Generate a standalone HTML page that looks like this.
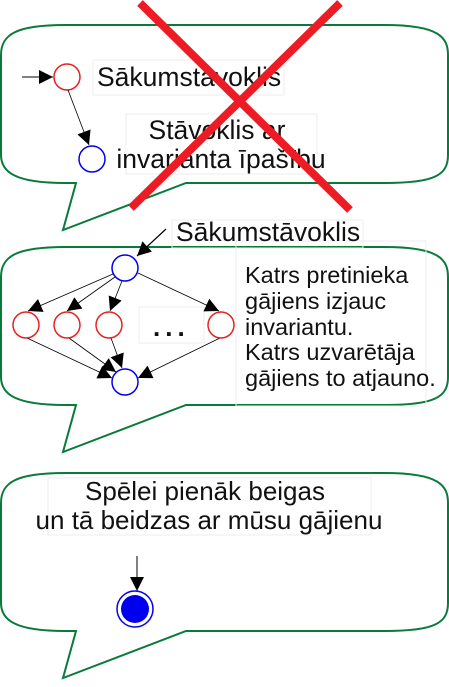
<!DOCTYPE html>
<html><head><meta charset="utf-8"><style>
html,body{margin:0;padding:0;background:#fff;}
svg{display:block;}
text{font-family:"Liberation Sans",sans-serif;fill:#111;}
</style></head><body>
<svg width="449" height="687" viewBox="0 0 449 687" xmlns="http://www.w3.org/2000/svg">
<defs>
<marker id="ahb" viewBox="0 0 10 10" refX="10" refY="5" markerWidth="14" markerHeight="14" markerUnits="userSpaceOnUse" orient="auto">
<path d="M0,0 L10,5 L0,10 z" fill="#000"/></marker>
<path id="bub" d="M65,25 L385,25 C440,25 448,38 448,55 L448,155 C448,175 435,183 385,183 L186,183 L63,230 L76,183 L65,183 C15,183 1,172 1,155 L1,55 C1,35 15,25 65,25 Z" fill="#fff" stroke="#0a7a3a" stroke-width="2"/>
</defs>
<use href="#bub"/>
<use href="#bub" transform="translate(0,222)"/>
<use href="#bub" transform="translate(0,448)"/>

<!-- bubble 1 -->
<rect x="93" y="60" width="191" height="35" fill="none" stroke="#eee"/>
<rect x="126" y="114" width="191" height="60" fill="none" stroke="#eee"/>
<line x1="22" y1="77" x2="53" y2="77" stroke="#000" stroke-width="1" marker-end="url(#ahb)"/>
<circle cx="67" cy="77" r="13" fill="none" stroke="#e82020" stroke-width="1.5"/>
<line x1="68" y1="90" x2="89" y2="145" stroke="#000" stroke-width="0.8" marker-end="url(#ahb)"/>
<circle cx="92" cy="159" r="13" fill="none" stroke="#0000ee" stroke-width="1.5"/>
<text x="97" y="86" font-size="26.5">Sākumstāvoklis</text>
<text x="217" y="139" font-size="26.5" text-anchor="middle">Stāvoklis ar</text>
<text x="221" y="168" font-size="26.5" text-anchor="middle">invarianta īpašību</text>
<line x1="140" y1="3" x2="350" y2="210" stroke="#ed1c24" stroke-width="8"/>
<line x1="340" y1="3" x2="131" y2="208" stroke="#ed1c24" stroke-width="8"/>

<!-- bubble 2 -->
<rect x="172" y="220" width="191" height="28" fill="none" stroke="#eee"/>
<rect x="236" y="241" width="190" height="165" fill="none" stroke="#eee"/>
<rect x="139" y="307" width="65" height="36" fill="none" stroke="#eee"/>
<text x="176" y="241" font-size="26.5">Sākumstāvoklis</text>
<line x1="166" y1="229" x2="137" y2="256" stroke="#000" stroke-width="1.2" marker-end="url(#ahb)"/>
<circle cx="125" cy="268" r="13" fill="none" stroke="#0000ee" stroke-width="1.5"/>
<g stroke="#000" stroke-width="0.8">
<line x1="113" y1="274" x2="28" y2="311" marker-end="url(#ahb)"/>
<line x1="115" y1="277" x2="67" y2="311" marker-end="url(#ahb)"/>
<line x1="122" y1="281" x2="110" y2="311" marker-end="url(#ahb)"/>
<line x1="138" y1="273" x2="219" y2="311" marker-end="url(#ahb)"/>
<line x1="27" y1="338" x2="112" y2="378" marker-end="url(#ahb)"/>
<line x1="69" y1="338" x2="116" y2="372" marker-end="url(#ahb)"/>
<line x1="111" y1="338" x2="122" y2="368" marker-end="url(#ahb)"/>
<line x1="220" y1="338" x2="138" y2="378" marker-end="url(#ahb)"/>
</g>
<g fill="none" stroke="#e82020" stroke-width="1.5">
<circle cx="26" cy="325" r="13"/><circle cx="67" cy="325" r="13"/><circle cx="109" cy="325" r="13"/><circle cx="221" cy="325" r="13"/>
</g>
<circle cx="125" cy="382" r="13" fill="none" stroke="#0000ee" stroke-width="1.5"/>
<text x="153" y="336" font-size="26" font-weight="bold" letter-spacing="5">...</text>
<g font-size="23.5">
<text x="245" y="283">Katrs pretinieka</text>
<text x="245" y="309">gājiens izjauc</text>
<text x="245" y="335">invariantu.</text>
<text x="245" y="360">Katrs uzvarētāja</text>
<text x="245" y="386">gājiens to atjauno.</text>
</g>

<!-- bubble 3 -->
<rect x="48" y="478" width="323" height="57" fill="none" stroke="#eee"/>
<text x="205" y="500" font-size="26" text-anchor="middle">Spēlei pienāk beigas</text>
<text x="209" y="529" font-size="26" text-anchor="middle">un tā beidzas ar mūsu gājienu</text>
<line x1="137" y1="556" x2="137" y2="591" stroke="#000" stroke-width="1" marker-end="url(#ahb)"/>
<circle cx="135" cy="609" r="18" fill="none" stroke="#0000ee" stroke-width="1.5"/>
<circle cx="135" cy="609" r="14" fill="#0000ee"/>
</svg>
</body></html>
